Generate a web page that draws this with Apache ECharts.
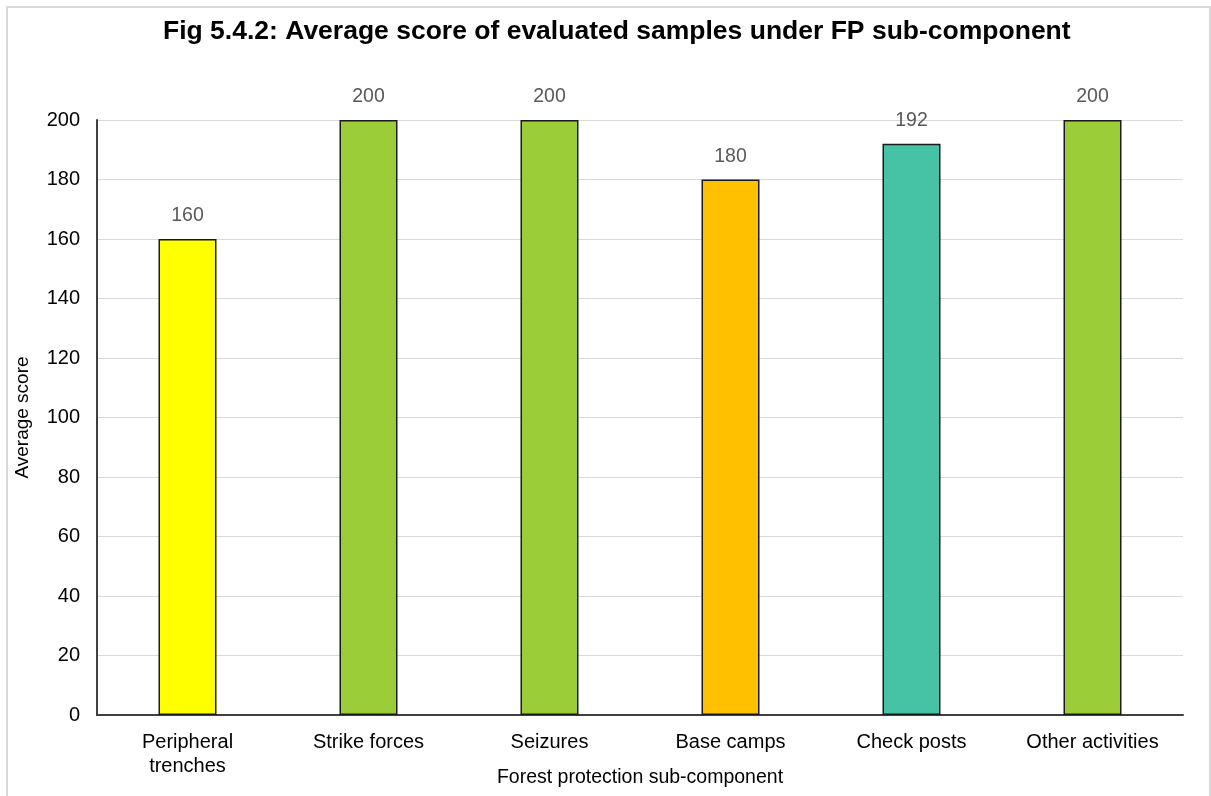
<!DOCTYPE html>
<html>
<head>
<meta charset="utf-8">
<script src="https://cdn.jsdelivr.net/npm/echarts@6/dist/echarts.min.js"></script>
<style>
html,body{margin:0;padding:0;background:#fff;}
#chart{width:1211px;height:796px;}
</style>
</head>
<body>
<div id="chart"></div>
<script>
const categories = ['Peripheral\ntrenches', 'Strike forces', 'Seizures', 'Base camps', 'Check posts', 'Other activities'];
const values = [160, 200, 200, 180, 192, 200];
const barColors = ['#FFFF00', '#9ACD38', '#9ACD38', '#FFC000', '#45C3A4', '#9ACD38'];
const yTicks = {min: 0, max: 200, interval: 20};

const chart = echarts.init(document.getElementById('chart'), null, {renderer: 'canvas'});
const font = 'Liberation Sans, Arial, sans-serif';
chart.setOption({
  animation: false,
  backgroundColor: '#fff',
  graphic: [{
    type: 'rect',
    shape: {x: 7, y: 7, width: 1203, height: 800},
    style: {fill: 'none', stroke: '#d9d9d9', lineWidth: 2},
    silent: true
  }],
  title: {
    text: 'Fig 5.4.2: Average score of evaluated samples under FP sub-component',
    left: 158,
    top: 13,
    textStyle: {fontFamily: font, fontSize: 26.5, fontWeight: 'bold', color: '#000'}
  },
  grid: {left: 97, right: 28, top: 120, bottom: 81, containLabel: false, outerBoundsMode: 'none'},
  xAxis: {
    type: 'category',
    data: categories,
    name: 'Forest protection sub-component',
    nameLocation: 'middle',
    nameGap: 53,
    nameMoveOverlap: false,
    nameTextStyle: {fontFamily: font, fontSize: 19.5, color: '#000'},
    axisLine: {lineStyle: {color: '#404040', width: 2}},
    axisTick: {show: false},
    axisLabel: {fontFamily: font, fontSize: 20, color: '#000', margin: 15, lineHeight: 24, interval: 0}
  },
  yAxis: {
    type: 'value',
    min: yTicks.min,
    max: yTicks.max,
    interval: yTicks.interval,
    name: 'Average score',
    nameLocation: 'middle',
    nameGap: 65,
    nameMoveOverlap: false,
    nameTextStyle: {fontFamily: font, fontSize: 19, color: '#000'},
    axisLine: {show: true, lineStyle: {color: '#404040', width: 2}},
    axisTick: {show: false},
    axisLabel: {fontFamily: font, fontSize: 20, color: '#000', margin: 17},
    splitLine: {lineStyle: {color: '#d9d9d9', width: 1}}
  },
  series: [{
    type: 'bar',
    data: values.map((v, i) => ({value: v, itemStyle: {color: barColors[i]}})),
    barWidth: 58,
    itemStyle: {borderColor: '#1a1a1a', borderWidth: 1.5},
    label: {show: true, position: 'top', distance: 13, fontFamily: font, fontSize: 19.5, color: '#595959'}
  }]
});
</script>
</body>
</html>
